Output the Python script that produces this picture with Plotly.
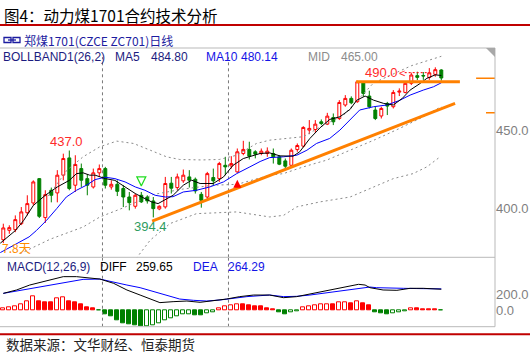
import plotly.graph_objects as go

# ---------------- data ----------------
opens = [380.2, 386.2, 386.6, 390.4, 397.4, 403.6, 419.1, 394.3, 411.7, 410.0,
         421.3, 432.3, 414.9, 425.5, 419.1, 413.8, 422.8, 425.5, 413.8, 415.5,
         412.8, 407.4, 401.5, 408.5, 407.4, 404.9, 399.8, 401.1, 416.2, 413.4,
         417.7, 420.2, 418.7, 409.1, 407.4, 419.8, 419.1, 427.6, 427.2, 423.4,
         435.1, 437.7, 436.2, 435.1, 435.1, 435.1, 433.0, 430.4, 427.6, 437.6,
         439.8, 450.0, 450.4, 455.3, 453.8, 458.0, 457.4, 466.0, 470.2, 468.1,
         480.2, 471.7, 462.8, 459.0, 467.0, 464.9, 474.2, 474.0, 479.8, 484.7,
         484.8, 483.5, 485.5, 488.3]
highs = [390.4, 389.4, 395.7, 401.0, 408.5, 418.0, 419.5, 411.7, 413.4, 424.5,
         435.0, 437.0, 434.0, 428.7, 422.0, 425.5, 428.1, 426.6, 418.0, 418.0,
         414.9, 410.6, 409.6, 410.6, 408.5, 407.4, 402.1, 420.2, 420.2, 422.3,
         424.9, 424.5, 419.8, 410.6, 423.4, 425.5, 429.8, 433.0, 433.4, 438.3,
         443.2, 442.6, 437.2, 438.3, 439.0, 438.3, 434.0, 431.9, 438.3, 441.5,
         452.5, 456.4, 456.4, 456.8, 461.0, 460.6, 469.1, 472.3, 471.5, 481.5,
         480.8, 475.1, 464.9, 464.9, 468.0, 475.5, 476.6, 480.8, 486.6, 487.2,
         487.0, 489.5, 490.0, 488.8]
lows = [378.0, 384.0, 385.0, 389.5, 395.7, 402.0, 394.0, 390.9, 404.0, 404.0,
        418.0, 411.7, 410.6, 413.8, 408.5, 412.8, 420.2, 412.8, 412.1, 408.0,
        401.0, 398.9, 400.0, 403.6, 403.2, 394.4, 399.0, 400.0, 409.6, 411.7,
        416.4, 413.4, 409.6, 400.6, 405.3, 414.9, 417.0, 421.3, 425.5, 422.8,
        434.0, 431.3, 432.0, 434.0, 433.0, 428.7, 427.7, 425.5, 426.6, 436.2,
        439.0, 447.4, 448.3, 453.2, 453.2, 453.2, 456.4, 464.9, 466.5, 467.4,
        471.3, 463.8, 456.4, 457.4, 459.6, 463.8, 471.7, 473.4, 478.7, 481.9,
        482.0, 482.0, 484.0, 481.5]
closes = [387.7, 387.9, 393.0, 397.9, 403.2, 417.0, 395.1, 408.9, 408.5, 421.3,
          431.9, 412.8, 428.1, 418.1, 414.9, 422.8, 425.5, 414.9, 415.5, 411.0,
          407.4, 403.8, 408.5, 404.3, 404.9, 400.0, 401.5, 416.0, 413.0, 420.2,
          421.3, 418.1, 411.3, 405.3, 422.3, 417.7, 428.7, 426.6, 428.7, 436.2,
          437.7, 433.4, 434.7, 436.6, 436.6, 433.0, 428.3, 427.0, 437.2, 440.2,
          451.7, 451.1, 453.8, 454.2, 458.9, 455.3, 467.6, 470.2, 467.4, 480.8,
          473.4, 464.9, 457.4, 463.8, 465.3, 474.0, 474.8, 479.8, 485.1, 483.6,
          484.5, 486.5, 488.5, 483.2]
idx = list(range(len(closes)))

# moving averages / bollinger at bar positions
ma5_pos = [-0.5, 2, 3.4, 5, 7, 9, 11, 12.2, 13.3, 14.4, 15.3, 17, 18.6, 20.3, 22, 23.6,
           24.7, 25.8, 27.2, 28.3, 30, 31.4, 32.8, 35, 36.7, 38.3, 40, 41.7, 42.8,
           44.4, 46.1, 48.3, 49.4, 51.1, 52.8, 54.4, 56.1, 57.8, 58.9, 60.3, 61.7,
           63.4, 65, 66.5, 67.8, 69.5, 70.6, 72, 73]
ma5_val = [378, 386, 392.5, 402, 408.5, 413.8, 418, 422.3, 422.8, 421.3, 421.3, 419.1,
           418, 413.8, 409.6, 406.4, 404.3, 403.2, 406.4, 408.5, 414.9, 418.1, 416,
           416, 420.2, 427.6, 431.9, 434, 435.1, 435.5, 433.6, 433.4, 436.2, 444.7,
           451.5, 456.8, 458.5, 463.2, 469, 471.7, 469.1, 467, 466, 470.2, 475.5,
           479.8, 483, 485.2, 484.8]
ma10_pos = [-0.5, 1.7, 4.3, 5.5, 7.2, 8.9, 10.5, 12.2, 13.9, 15.3, 17, 18.6, 20.3, 22,
            23.6, 25.3, 27, 28.3, 30, 32.2, 34.4, 36.7, 38.9, 41.1, 42.8, 44.4, 46.7,
            48.9, 50.6, 52.2, 54.4, 56.1, 57.8, 59.4, 61.7, 63.9, 65.9, 67.8, 70,
            71.7, 73]
ma10_val = [372, 376.6, 382, 386, 392.5, 400, 407.4, 411.7, 415, 418.5, 420, 419.1,
            417, 413.8, 411.7, 408.5, 407.4, 407.6, 410.6, 411.7, 413.8, 417, 422.3,
            426.6, 430, 432.5, 433, 434, 437.2, 441.5, 444.7, 450, 456.4, 462.8,
            464.9, 466, 468.7, 472.3, 475.5, 477.6, 480.14]
up_pos = [7.5, 8.6, 10.6, 13.3, 16.1, 18.9, 21.7, 24.5, 27.2, 29.4, 33, 36, 38.9, 42.2,
          44.4, 47.2, 50, 52.8, 56.7, 61.7, 68, 73]
up_val = [408, 413.8, 424.4, 433, 439.4, 443, 441.5, 437.2, 433, 431.3, 431, 431.3,
          434, 441.5, 443.6, 444.7, 445.8, 452, 459.5, 480, 491, 497]
mid_pos = [2.8, 7.8, 13.3, 16.1, 20, 25, 30, 35, 39, 44.4, 46.7, 50, 53.9, 57.8, 62,
           66, 70, 73]
mid_val = [371.3, 380.5, 388.3, 394.7, 400.5, 409, 412.5, 414.9, 415.5, 421.3, 422.3,
           426.6, 430.9, 437.2, 444, 451, 458.5, 465]
low_pos = [21.7, 22.3, 24.5, 27.8, 32.2, 38.9, 44.4, 46.7, 48.9, 52.8, 57.8, 61.7, 65,
           68.3, 70.6, 72.8]
low_val = [362, 369, 380, 390.5, 396.8, 397.9, 394.7, 395.7, 401.1, 404.3, 407.4,
           413.8, 419.1, 422.3, 426.6, 433]

# MACD histogram (one per bar) and DIFF / DEA lines
macd_bar = [20, 30, 40, 75, 110, 170, 105, 95, 90, 150, 165, 110, 95, 65, 30, 15, -5,
            -60, -85, -125, -165, -185, -195, -205, -200, -190, -165, -135, -110, -75,
            -60, -55, -62, -72, -40, -25, 25, 40, 55, 70, 68, 60, 50, 40, 20, 12, -25,
            -55, -35, -20, 30, 50, 60, 70, 72, 70, 90, 95, 85, 112, 85, 55, -25, -45,
            -55, -40, -25, -15, 18, 16, 14, 13, 12, -10]
diff_pos = [0, 2.2, 4.4, 6.7, 8.3, 10, 12.2, 14.4, 16.1, 18.4, 20.6, 22.8, 25, 26.1,
            28.3, 30.6, 32.8, 35, 37.2, 39.4, 41.7, 44.4, 46.7, 48.9, 51.7, 53.3, 55.6,
            57.8, 59.2, 60.3, 61.1, 63.3, 65.6, 67.8, 70, 73]
diff_val = [208, 250, 312, 354, 387, 417, 417, 404, 387, 333, 250, 187, 125, 92, 104,
            112, 96, 112, 137, 167, 187, 187, 154, 167, 208, 237, 271, 300, 321, 312,
            279, 250, 246, 271, 271, 259.65]
dea_pos = [0, 2.2, 4.4, 6.7, 8.9, 11.1, 13.3, 16.1, 18.4, 20.6, 22.8, 25, 27.2, 29.4,
           31.7, 33.9, 36.1, 38.3, 40.6, 42.8, 44.4, 46.7, 48.9, 51.1, 53.3, 55.6, 57.8,
           60, 61.1, 62.2, 64.4, 66.7, 68.9, 71.1, 73]
dea_val = [208, 237, 271, 304, 333, 362, 383, 387, 346, 312, 279, 229, 179, 137, 121,
           112, 125, 146, 167, 179, 187, 167, 171, 187, 208, 229, 250, 271, 287, 279,
           271, 271, 268, 266, 264.29]

# hand-drawn lines and marks on the chart
hline_x = [58.8, 76.1]
hline_y = [480.8, 480.8]
trend_x = [24.8, 75.3]
trend_y = [392.0, 467.0]
mark1_x, mark1_y = [78.8, 81.95], [483.0, 483.0]
mark2_x, mark2_y = [80.45, 81.95], [461.0, 461.0]
sell_x, sell_y = [23], [414.5]
buy_x, buy_y = [39], [418.4]
month_sep = [16.53, 37.53]

# ---------------- figure ----------------
W, H = 530, 353
def px(x): return x / W
def py(y): return 1 - y / H

RED = '#ff0000'
GRN = '#008000'
PRICE_RANGE = [369.0, 502.3]
MACD_RANGE = [-209, 659]
fig = go.Figure()

# month separators (vertical dotted lines) in both panels
sep = dict(color='#7a7a7a', width=1, dash='3px,3px')
for xv in month_sep:
    fig.add_trace(go.Scatter(x=[xv, xv], y=[PRICE_RANGE[0], 496.5], mode='lines', line=sep,
                             showlegend=False, hoverinfo='skip', xaxis='x', yaxis='y'))
    fig.add_trace(go.Scatter(x=[xv, xv], y=MACD_RANGE, mode='lines', line=sep,
                             showlegend=False, hoverinfo='skip', xaxis='x2', yaxis='y2'))

fig.add_trace(go.Candlestick(
    x=idx, open=opens, high=highs, low=lows, close=closes,
    increasing=dict(line=dict(color=RED, width=1), fillcolor='rgba(255,255,255,0)'),
    decreasing=dict(line=dict(color=GRN, width=1), fillcolor=GRN),
    whiskerwidth=0, showlegend=False, hoverinfo='skip', xaxis='x', yaxis='y'))

dash = dict(color='#8a8a8a', width=1, dash='2px,3px')
for xs, ys in [(up_pos, up_val), (mid_pos, mid_val), (low_pos, low_val)]:
    fig.add_trace(go.Scatter(x=xs, y=ys, mode='lines', line=dash, showlegend=False,
                             hoverinfo='skip', xaxis='x', yaxis='y'))

fig.add_trace(go.Scatter(x=ma10_pos, y=ma10_val, mode='lines',
                         line=dict(color='#0000ff', width=1), showlegend=False,
                         hoverinfo='skip', xaxis='x', yaxis='y'))
fig.add_trace(go.Scatter(x=ma5_pos, y=ma5_val, mode='lines',
                         line=dict(color='#000000', width=1), showlegend=False,
                         hoverinfo='skip', xaxis='x', yaxis='y'))

ORG = '#ff8000'
fig.add_trace(go.Scatter(x=hline_x, y=hline_y, mode='lines', line=dict(color=ORG, width=3),
                         showlegend=False, hoverinfo='skip', xaxis='x', yaxis='y'))
fig.add_trace(go.Scatter(x=trend_x, y=trend_y, mode='lines', line=dict(color=ORG, width=3),
                         showlegend=False, hoverinfo='skip', xaxis='x', yaxis='y'))
for xs, ys in [(mark1_x, mark1_y), (mark2_x, mark2_y)]:
    fig.add_trace(go.Scatter(x=xs, y=ys, mode='lines', line=dict(color=ORG, width=1.5),
                             showlegend=False, hoverinfo='skip', xaxis='x', yaxis='y',
                             cliponaxis=False))

fig.add_trace(go.Scatter(x=sell_x, y=sell_y, mode='markers',
                         marker=dict(symbol='arrow-down-open', size=9, color='#22dd22',
                                     line=dict(color='#22dd22', width=1.2)),
                         showlegend=False, hoverinfo='skip', xaxis='x', yaxis='y'))
fig.add_trace(go.Scatter(x=buy_x, y=buy_y, mode='markers',
                         marker=dict(symbol='arrow-up', size=8, color=RED,
                                     line=dict(color=RED, width=0)),
                         showlegend=False, hoverinfo='skip', xaxis='x', yaxis='y'))

# MACD histogram: hollow when the bar rises, filled when it falls
fills, lines_c = [], []
prev = None
for v in macd_bar:
    c = RED if v >= 0 else GRN
    rising = prev is None or v > prev
    fills.append('#ffffff' if rising else c)
    lines_c.append(c)
    prev = v
fig.add_trace(go.Bar(x=idx, y=macd_bar, width=0.72,
                     marker=dict(color=fills, line=dict(color=lines_c, width=1)),
                     showlegend=False, hoverinfo='skip', xaxis='x2', yaxis='y2'))
fig.add_trace(go.Scatter(x=dea_pos, y=dea_val, mode='lines', line=dict(color='#0000ff', width=1),
                         showlegend=False, hoverinfo='skip', xaxis='x2', yaxis='y2'))
fig.add_trace(go.Scatter(x=diff_pos, y=diff_val, mode='lines', line=dict(color='#000000', width=1),
                         showlegend=False, hoverinfo='skip', xaxis='x2', yaxis='y2'))

XD = [0, px(495)]
XR = [-0.55, 81.95]
axfont = dict(family='Liberation Sans, Arial', size=13, color='#7f7f7f')
fig.update_layout(
    width=W, height=H, margin=dict(l=0, r=0, t=0, b=0),
    paper_bgcolor='white', plot_bgcolor='white', bargap=0,
    xaxis=dict(domain=XD, range=XR, visible=False, rangeslider=dict(visible=False), anchor='y'),
    xaxis2=dict(domain=XD, range=XR, visible=False, anchor='y2', matches='x'),
    yaxis=dict(domain=[py(257.3), py(48)], range=PRICE_RANGE, side='right', anchor='x',
               tickvals=[400, 450], ticktext=['400.0', '450.0'], showgrid=False,
               zeroline=False, showline=False, ticks='', tickfont=axfont),
    yaxis2=dict(domain=[py(326.7), py(257.3)], range=MACD_RANGE, side='right', anchor='x2',
                tickvals=[0, 200], ticktext=['0.0', '200.0'], showgrid=False,
                zeroline=False, showline=False, ticks='', tickfont=axfont),
)

GREY = '#b9b9b9'
shapes = [
    dict(type='line', xref='paper', yref='paper', x0=0, x1=px(495), y0=py(48), y1=py(48),
         line=dict(color=GREY, width=1)),
    dict(type='line', xref='paper', yref='paper', x0=0, x1=px(495), y0=py(257.3), y1=py(257.3),
         line=dict(color=GREY, width=1)),
    dict(type='line', xref='paper', yref='paper', x0=0, x1=px(495), y0=py(326.7), y1=py(326.7),
         line=dict(color=GREY, width=1)),
    dict(type='line', xref='paper', yref='paper', x0=px(495), x1=px(495), y0=py(326.7), y1=py(48),
         line=dict(color=GREY, width=1)),
    dict(type='path', xref='paper', yref='paper',
         path=f'M {px(486)},{py(48)} L {px(495)},{py(48)} L {px(495)},{py(57)} Z',
         fillcolor='#a8a8a8', line=dict(width=0)),
    dict(type='line', xref='paper', yref='paper', x0=0, x1=1, y0=py(25), y1=py(25),
         line=dict(color='#c00000', width=2)),
    dict(type='line', xref='paper', yref='paper', x0=0, x1=1, y0=py(334.3), y1=py(334.3),
         line=dict(color='#c00000', width=2)),
    # link icon
    dict(type='rect', xref='paper', yref='paper', x0=px(4), x1=px(11), y0=py(42.5), y1=py(37.5),
         line=dict(color='#1c1ca0', width=1.3)),
    dict(type='rect', xref='paper', yref='paper', x0=px(13), x1=px(20), y0=py(42.5), y1=py(37.5),
         line=dict(color='#1c1ca0', width=1.3)),
    dict(type='line', xref='paper', yref='paper', x0=px(8), x1=px(16), y0=py(40), y1=py(40),
         line=dict(color='#1c1ca0', width=1.3)),
    # dashed pointer of the 490.0 label
    dict(type='line', xref='x', yref='y', x0=66.9, x1=71.0, y0=486.6, y1=486.6,
         line=dict(color=RED, width=1, dash='2px,2px')),
]
fig.update_layout(shapes=shapes)

SANS = 'Liberation Sans, Arial'
CJK = 'Noto Sans CJK SC'
ann = []
def t(x, y, s, color, size=12, fam=SANS):
    ann.append(dict(xref='paper', yref='paper', x=px(x), y=py(y), text=s, showarrow=False,
                    xanchor='left', yanchor='middle', font=dict(family=fam, size=size, color=color)))
t(2, 14.5, '图4：动力煤1701合约技术分析', '#000000', 15.5, CJK)
t(22, 40, '郑煤1701(CZCE ZC701)日线', '#1c1ca0', 12, CJK)
NAVY = '#1c1c80'
BLUE = '#1414e6'
GRY = '#8c8c8c'
t(1, 57, 'BOLLBAND1(26,2)', NAVY)
t(113, 57, 'MA5', NAVY)
t(149, 57, '484.80', NAVY)
t(204, 57, 'MA10', BLUE)
t(239, 57, '480.14', BLUE)
t(306, 57, 'MID', GRY)
t(339, 57, '465.00', GRY)
t(5, 266.7, 'MACD(12,26,9)', NAVY)
t(98, 266.7, 'DIFF', '#000000')
t(134, 266.7, '259.65', '#000000')
t(191, 266.7, 'DEA', BLUE)
t(226, 266.7, '264.29', BLUE)
t(4, 344, '数据来源：文华财经、恒泰期货', '#222222', 13.5, CJK)
t(0, 247, '7.8天', '#ff8c00', 12, CJK)

def d(x, y, s, color, size=13, xa='center', fam=SANS):
    ann.append(dict(xref='x', yref='y', x=x, y=y, text=s, showarrow=False, xanchor=xa,
                    yanchor='middle', font=dict(family=fam, size=size, color=color)))
d(10.45, 443.0, '437.0', '#ff2a2a')
d(24.6, 388.7, '394.4', '#2f9c5f')
d(63.0, 486.6, '490.0', '#ff2a2a')
d(66.5, 486.6, '<', '#ff2a2a', 11)
fig.update_layout(annotations=ann)

fig.write_html('out.html')
